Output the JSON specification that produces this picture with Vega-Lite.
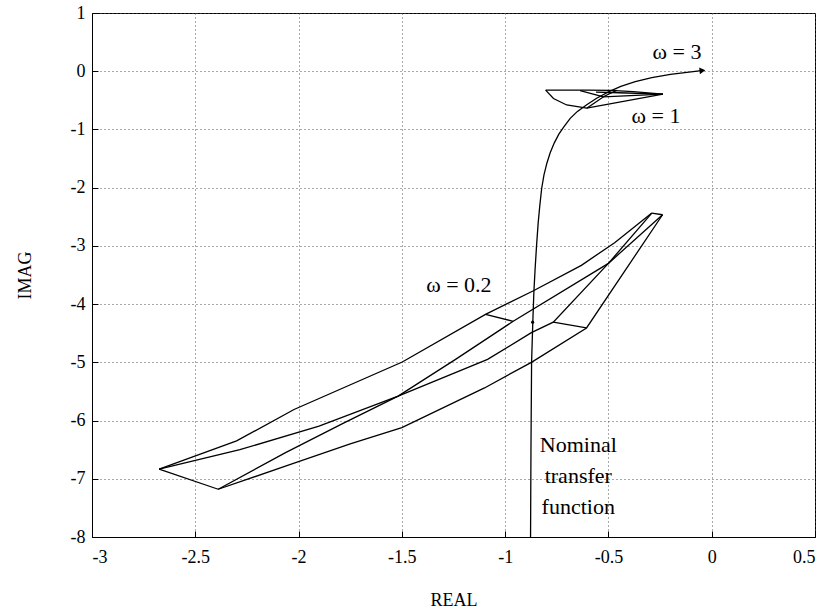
{
  "$schema": "https://vega.github.io/schema/vega-lite/v6.json",
  "autosize": {"type": "none"},
  "padding": {"left": 92, "top": 13, "right": 17, "bottom": 76},
  "width": 723,
  "height": 524,
  "background": "white",
  "config": {
    "view": {"stroke": "black", "strokeWidth": 1},
    "font": "Times New Roman, Liberation Serif, serif",
    "axis": {
      "labelFont": "Times New Roman, Liberation Serif, serif",
      "labelFontSize": 18,
      "labelColor": "black",
      "titleFont": "Times New Roman, Liberation Serif, serif",
      "titleFontSize": 18,
      "titleFontWeight": "normal",
      "titleColor": "black",
      "domainColor": "black",
      "tickColor": "black",
      "grid": true,
      "gridColor": "#555555",
      "gridDash": [1, 3],
      "gridWidth": 1
    }
  },
  "datasets": {
    "curves": [
      {"series": "nominal", "order": 1, "x": -0.877, "y": -8.0},
      {"series": "nominal", "order": 2, "x": -0.875, "y": -6.5},
      {"series": "nominal", "order": 3, "x": -0.872, "y": -5.0},
      {"series": "nominal", "order": 4, "x": -0.866, "y": -4.3},
      {"series": "nominal", "order": 5, "x": -0.861, "y": -3.8},
      {"series": "nominal", "order": 6, "x": -0.855, "y": -3.4},
      {"series": "nominal", "order": 7, "x": -0.848, "y": -3.0},
      {"series": "nominal", "order": 8, "x": -0.84, "y": -2.6},
      {"series": "nominal", "order": 9, "x": -0.832, "y": -2.3},
      {"series": "nominal", "order": 10, "x": -0.823, "y": -2.01},
      {"series": "nominal", "order": 11, "x": -0.812, "y": -1.78},
      {"series": "nominal", "order": 12, "x": -0.798, "y": -1.58},
      {"series": "nominal", "order": 13, "x": -0.782, "y": -1.4},
      {"series": "nominal", "order": 14, "x": -0.762, "y": -1.23},
      {"series": "nominal", "order": 15, "x": -0.74, "y": -1.08},
      {"series": "nominal", "order": 16, "x": -0.715, "y": -0.95},
      {"series": "nominal", "order": 17, "x": -0.685, "y": -0.81},
      {"series": "nominal", "order": 18, "x": -0.65, "y": -0.69},
      {"series": "nominal", "order": 19, "x": -0.605, "y": -0.575},
      {"series": "nominal", "order": 20, "x": -0.555, "y": -0.46},
      {"series": "nominal", "order": 21, "x": -0.5, "y": -0.355},
      {"series": "nominal", "order": 22, "x": -0.44, "y": -0.26},
      {"series": "nominal", "order": 23, "x": -0.37, "y": -0.18},
      {"series": "nominal", "order": 24, "x": -0.29, "y": -0.11},
      {"series": "nominal", "order": 25, "x": -0.2, "y": -0.055},
      {"series": "nominal", "order": 26, "x": -0.12, "y": -0.018},
      {"series": "nominal", "order": 27, "x": -0.06, "y": 0.006},
      {"series": "nominal", "order": 28, "x": -0.04, "y": 0.013},

      {"series": "L1", "order": 1, "x": -2.675, "y": -6.835},
      {"series": "L1", "order": 2, "x": -2.3, "y": -6.35},
      {"series": "L1", "order": 3, "x": -2.022, "y": -5.81},
      {"series": "L1", "order": 4, "x": -1.498, "y": -4.995},
      {"series": "L1", "order": 5, "x": -1.095, "y": -4.176},
      {"series": "L1", "order": 6, "x": -0.863, "y": -3.77},
      {"series": "L1", "order": 7, "x": -0.631, "y": -3.334},
      {"series": "L1", "order": 8, "x": -0.47, "y": -2.945},
      {"series": "L1", "order": 9, "x": -0.29, "y": -2.436},

      {"series": "L2", "order": 1, "x": -2.675, "y": -6.835},
      {"series": "L2", "order": 2, "x": -2.284, "y": -6.5},
      {"series": "L2", "order": 3, "x": -1.901, "y": -6.095},
      {"series": "L2", "order": 4, "x": -1.518, "y": -5.58},
      {"series": "L2", "order": 5, "x": -1.085, "y": -4.95},
      {"series": "L2", "order": 6, "x": -0.873, "y": -4.49},
      {"series": "L2", "order": 7, "x": -0.767, "y": -4.31},
      {"series": "L2", "order": 8, "x": -0.5, "y": -3.3},
      {"series": "L2", "order": 9, "x": -0.29, "y": -2.436},

      {"series": "L3", "order": 1, "x": -2.389, "y": -7.18},
      {"series": "L3", "order": 2, "x": -2.063, "y": -6.55},
      {"series": "L3", "order": 3, "x": -1.78, "y": -6.04},
      {"series": "L3", "order": 4, "x": -1.518, "y": -5.58},
      {"series": "L3", "order": 5, "x": -1.24, "y": -4.95},
      {"series": "L3", "order": 6, "x": -0.961, "y": -4.295},
      {"series": "L3", "order": 7, "x": -0.5, "y": -3.3},
      {"series": "L3", "order": 8, "x": -0.238, "y": -2.465},

      {"series": "L4", "order": 1, "x": -2.389, "y": -7.18},
      {"series": "L4", "order": 2, "x": -2.06, "y": -6.78},
      {"series": "L4", "order": 3, "x": -1.75, "y": -6.4},
      {"series": "L4", "order": 4, "x": -1.5, "y": -6.12},
      {"series": "L4", "order": 5, "x": -1.1, "y": -5.44},
      {"series": "L4", "order": 6, "x": -0.873, "y": -5.0},
      {"series": "L4", "order": 7, "x": -0.606, "y": -4.41},
      {"series": "L4", "order": 8, "x": -0.238, "y": -2.465},

      {"series": "AB", "order": 1, "x": -2.675, "y": -6.835},
      {"series": "AB", "order": 2, "x": -2.389, "y": -7.18},
      {"series": "CD", "order": 1, "x": -0.29, "y": -2.436},
      {"series": "CD", "order": 2, "x": -0.238, "y": -2.465},
      {"series": "EF", "order": 1, "x": -1.095, "y": -4.176},
      {"series": "EF", "order": 2, "x": -0.961, "y": -4.295},
      {"series": "GH", "order": 1, "x": -0.767, "y": -4.31},
      {"series": "GH", "order": 2, "x": -0.606, "y": -4.41},

      {"series": "S1", "order": 1, "x": -0.804, "y": -0.324},
      {"series": "S1", "order": 2, "x": -0.6, "y": -0.324},
      {"series": "S1", "order": 3, "x": -0.49, "y": -0.328},
      {"series": "S1", "order": 4, "x": -0.38, "y": -0.352},
      {"series": "S1", "order": 5, "x": -0.236, "y": -0.392},

      {"series": "S2", "order": 1, "x": -0.804, "y": -0.324},
      {"series": "S2", "order": 2, "x": -0.766, "y": -0.469},
      {"series": "S2", "order": 3, "x": -0.702, "y": -0.58},
      {"series": "S2", "order": 4, "x": -0.605, "y": -0.635},
      {"series": "S2", "order": 5, "x": -0.236, "y": -0.392},

      {"series": "S3", "order": 1, "x": -0.637, "y": -0.335},
      {"series": "S3", "order": 2, "x": -0.524, "y": -0.44},
      {"series": "S3", "order": 3, "x": -0.236, "y": -0.392},

      {"series": "S4", "order": 1, "x": -0.605, "y": -0.635},
      {"series": "S4", "order": 2, "x": -0.52, "y": -0.43},
      {"series": "S4", "order": 3, "x": -0.46, "y": -0.33},

      {"series": "S5", "order": 1, "x": -0.56, "y": -0.36},
      {"series": "S5", "order": 2, "x": -0.45, "y": -0.37},
      {"series": "S5", "order": 3, "x": -0.236, "y": -0.392}
    ],
    "arrow": [
      {"x": -0.045, "y": 0.012}
    ],
    "dot": [
      {"x": -0.867, "y": -4.31}
    ],
    "labels": [
      {"text": "ω = 3", "x": -0.168, "y": 0.322},
      {"text": "ω = 1", "x": -0.27, "y": -0.767},
      {"text": "ω = 0.2", "x": -1.224, "y": -3.666}
    ],
    "note": [
      {"text": ["Nominal", "transfer", "function"], "x": -0.646, "y": -6.547}
    ]
  },
  "encoding": {
    "x": {
      "field": "x",
      "type": "quantitative",
      "scale": {"domain": [-3, 0.5], "nice": false, "zero": false},
      "axis": {
        "title": "REAL",
        "values": [-3, -2.5, -2, -1.5, -1, -0.5, 0, 0.5],
        "labelExpr": "'' + datum.value",
        "ticks": true,
        "tickSize": -6,
        "labelPadding": 17,
        "titleY": 63,
        "titleBaseline": "middle"
      }
    },
    "y": {
      "field": "y",
      "type": "quantitative",
      "scale": {"domain": [-8, 1], "nice": false, "zero": false},
      "axis": {
        "title": "IMAG",
        "values": [-8, -7, -6, -5, -4, -3, -2, -1, 0, 1],
        "labelExpr": "'' + datum.value",
        "ticks": true,
        "tickSize": -6,
        "labelPadding": 13,
        "titleX": -67,
        "titleY": 262,
        "titleAlign": "center",
        "titleBaseline": "middle"
      }
    }
  },
  "layer": [
    {
      "data": {"name": "curves"},
      "mark": {"type": "line", "color": "black", "strokeWidth": 1.3, "strokeJoin": "miter"},
      "encoding": {
        "detail": {"field": "series", "type": "nominal"},
        "order": {"field": "order", "type": "quantitative"}
      }
    },
    {
      "data": {"name": "arrow"},
      "mark": {"type": "point", "shape": "triangle-right", "filled": true, "color": "black", "size": 45, "opacity": 1, "angle": -6}
    },
    {
      "data": {"name": "dot"},
      "mark": {"type": "point", "shape": "circle", "filled": true, "color": "black", "size": 10, "opacity": 1}
    },
    {
      "data": {"name": "labels"},
      "mark": {"type": "text", "font": "Times New Roman, Liberation Serif, serif", "fontSize": 22, "align": "center", "baseline": "middle", "color": "black"},
      "encoding": {"text": {"field": "text"}}
    },
    {
      "data": {"name": "note"},
      "mark": {"type": "text", "font": "Times New Roman, Liberation Serif, serif", "fontSize": 22, "align": "center", "baseline": "alphabetic", "lineHeight": 31, "color": "black"},
      "encoding": {"text": {"field": "text"}}
    }
  ]
}
